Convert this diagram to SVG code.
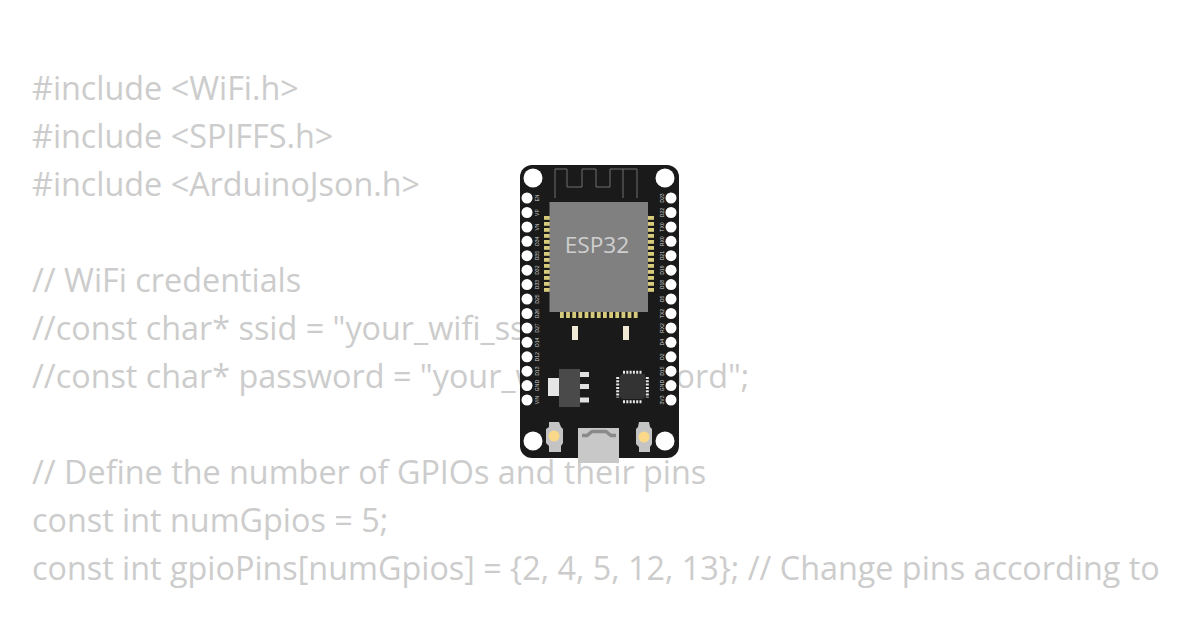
<svg xmlns="http://www.w3.org/2000/svg" width="1200" height="630" viewBox="0 0 1200 630">
<style>
.code{font-family:"Open Sans","Noto Sans",sans-serif;font-size:32.35px;fill:#ccc}
.pin{fill:#fff}
.lbl{font-family:"Liberation Sans",sans-serif;font-size:6.2px;fill:#ccc;text-anchor:middle}
.pad{fill:#d6cb7c}
.btn{fill:#c4c4c4}
.glow{fill:#fbd98a}
</style>
<rect width="1200" height="630" fill="#fff"/>
<g id="code">
<text class="code" x="32" y="100">#include &lt;WiFi.h&gt;</text>
<text class="code" x="32" y="148">#include &lt;SPIFFS.h&gt;</text>
<text class="code" x="32" y="196">#include &lt;ArduinoJson.h&gt;</text>
<text class="code" x="32" y="292">// WiFi credentials</text>
<text class="code" x="32" y="340">//const char* ssid = "your_wifi_ssid";</text>
<text class="code" x="32" y="388">//const char* password = "your_wifi_password";</text>
<text class="code" x="32" y="484">// Define the number of GPIOs and their pins</text>
<text class="code" x="32" y="532">const int numGpios = 5;</text>
<text class="code" x="32" y="580">const int gpioPins[numGpios] = {2, 4, 5, 12, 13}; // Change pins according to</text>
</g>
<g id="board">
<rect x="520" y="165" width="159" height="293" rx="12" fill="#1a1a1a"/>
<circle class="pin" cx="533" cy="178" r="9.5"/><circle class="pin" cx="665" cy="178" r="9.5"/>
<circle class="pin" cx="533" cy="441" r="9.5"/><circle class="pin" cx="665" cy="441" r="9.5"/>
<path d="M555 198V169H567V187H582V169H596V187H610V169H637V198M623 169V198" fill="none" stroke="#6e6e6e" stroke-width="1"/>
</g>
<g id="pins-left">
<circle class="pin" cx="527" cy="198" r="5.5"/><circle class="pin" cx="527" cy="212.5" r="5.5"/><circle class="pin" cx="527" cy="227" r="5.5"/><circle class="pin" cx="527" cy="241.3" r="5.5"/><circle class="pin" cx="527" cy="255.7" r="5.5"/><circle class="pin" cx="527" cy="270.2" r="5.5"/><circle class="pin" cx="527" cy="284.6" r="5.5"/><circle class="pin" cx="527" cy="299" r="5.5"/><circle class="pin" cx="527" cy="313.5" r="5.5"/><circle class="pin" cx="527" cy="328" r="5.5"/><circle class="pin" cx="527" cy="342.3" r="5.5"/><circle class="pin" cx="527" cy="356.8" r="5.5"/><circle class="pin" cx="527" cy="371.2" r="5.5"/><circle class="pin" cx="527" cy="385.6" r="5.5"/><circle class="pin" cx="527" cy="400" r="5.5"/>
<g class="lbl">
<text transform="translate(539.300,198) rotate(-90) scale(.82,1)">EN</text><text transform="translate(539.300,212.5) rotate(-90) scale(.82,1)">VP</text><text transform="translate(539.300,227) rotate(-90) scale(.82,1)">VN</text><text transform="translate(539.300,241.3) rotate(-90) scale(.82,1)">D34</text><text transform="translate(539.300,255.7) rotate(-90) scale(.82,1)">D35</text><text transform="translate(539.300,270.2) rotate(-90) scale(.82,1)">D32</text><text transform="translate(539.300,284.6) rotate(-90) scale(.82,1)">D33</text><text transform="translate(539.300,299) rotate(-90) scale(.82,1)">D25</text><text transform="translate(539.300,313.5) rotate(-90) scale(.82,1)">D26</text><text transform="translate(539.300,328) rotate(-90) scale(.82,1)">D27</text><text transform="translate(539.300,342.3) rotate(-90) scale(.82,1)">D14</text><text transform="translate(539.300,356.8) rotate(-90) scale(.82,1)">D12</text><text transform="translate(539.300,371.2) rotate(-90) scale(.82,1)">D13</text><text transform="translate(539.300,385.6) rotate(-90) scale(.82,1)">GND</text><text transform="translate(539.300,400) rotate(-90) scale(.82,1)">VIN</text>
</g>
</g>
<g id="pins-right">
<circle class="pin" cx="671" cy="198" r="5.5"/><circle class="pin" cx="671" cy="212.5" r="5.5"/><circle class="pin" cx="671" cy="227" r="5.5"/><circle class="pin" cx="671" cy="241.3" r="5.5"/><circle class="pin" cx="671" cy="255.7" r="5.5"/><circle class="pin" cx="671" cy="270.2" r="5.5"/><circle class="pin" cx="671" cy="284.6" r="5.5"/><circle class="pin" cx="671" cy="299" r="5.5"/><circle class="pin" cx="671" cy="313.5" r="5.5"/><circle class="pin" cx="671" cy="328" r="5.5"/><circle class="pin" cx="671" cy="342.3" r="5.5"/><circle class="pin" cx="671" cy="356.8" r="5.5"/><circle class="pin" cx="671" cy="371.2" r="5.5"/><circle class="pin" cx="671" cy="385.6" r="5.5"/><circle class="pin" cx="671" cy="400" r="5.5"/>
<g class="lbl">
<text transform="translate(664,198) rotate(-90) scale(.82,1)">D23</text><text transform="translate(664,212.5) rotate(-90) scale(.82,1)">D22</text><text transform="translate(664,227) rotate(-90) scale(.82,1)">TX0</text><text transform="translate(664,241.3) rotate(-90) scale(.82,1)">RX0</text><text transform="translate(664,255.7) rotate(-90) scale(.82,1)">D21</text><text transform="translate(664,270.2) rotate(-90) scale(.82,1)">D19</text><text transform="translate(664,284.6) rotate(-90) scale(.82,1)">D18</text><text transform="translate(664,299) rotate(-90) scale(.82,1)">D5</text><text transform="translate(664,313.5) rotate(-90) scale(.82,1)">TX2</text><text transform="translate(664,328) rotate(-90) scale(.82,1)">RX2</text><text transform="translate(664,342.3) rotate(-90) scale(.82,1)">D4</text><text transform="translate(664,356.8) rotate(-90) scale(.82,1)">D2</text><text transform="translate(664,371.2) rotate(-90) scale(.82,1)">D15</text><text transform="translate(664,385.6) rotate(-90) scale(.82,1)">GND</text><text transform="translate(664,400) rotate(-90) scale(.82,1)">3V3</text>
</g>
</g>
<g id="esp32">
<rect x="544" y="216" width="6" height="3.800" class="pad"/><rect x="544" y="222" width="6" height="3.800" class="pad"/><rect x="544" y="228" width="6" height="3.800" class="pad"/><rect x="544" y="234" width="6" height="3.800" class="pad"/><rect x="544" y="240" width="6" height="3.800" class="pad"/><rect x="544" y="246" width="6" height="3.800" class="pad"/><rect x="544" y="252" width="6" height="3.800" class="pad"/><rect x="544" y="258" width="6" height="3.800" class="pad"/><rect x="544" y="264" width="6" height="3.800" class="pad"/><rect x="544" y="270" width="6" height="3.800" class="pad"/><rect x="544" y="276" width="6" height="3.800" class="pad"/><rect x="544" y="282" width="6" height="3.800" class="pad"/><rect x="544" y="288" width="6" height="3.800" class="pad"/>
<rect x="648" y="216" width="6" height="3.800" class="pad"/><rect x="648" y="222" width="6" height="3.800" class="pad"/><rect x="648" y="228" width="6" height="3.800" class="pad"/><rect x="648" y="234" width="6" height="3.800" class="pad"/><rect x="648" y="240" width="6" height="3.800" class="pad"/><rect x="648" y="246" width="6" height="3.800" class="pad"/><rect x="648" y="252" width="6" height="3.800" class="pad"/><rect x="648" y="258" width="6" height="3.800" class="pad"/><rect x="648" y="264" width="6" height="3.800" class="pad"/><rect x="648" y="270" width="6" height="3.800" class="pad"/><rect x="648" y="276" width="6" height="3.800" class="pad"/><rect x="648" y="282" width="6" height="3.800" class="pad"/><rect x="648" y="288" width="6" height="3.800" class="pad"/>
<rect x="560" y="312" width="3.800" height="6" class="pad"/><rect x="566.100" y="312" width="3.800" height="6" class="pad"/><rect x="572.300" y="312" width="3.800" height="6" class="pad"/><rect x="578.400" y="312" width="3.800" height="6" class="pad"/><rect x="584.600" y="312" width="3.800" height="6" class="pad"/><rect x="590.700" y="312" width="3.800" height="6" class="pad"/><rect x="596.900" y="312" width="3.800" height="6" class="pad"/><rect x="603" y="312" width="3.800" height="6" class="pad"/><rect x="609.200" y="312" width="3.800" height="6" class="pad"/><rect x="615.300" y="312" width="3.800" height="6" class="pad"/><rect x="621.500" y="312" width="3.800" height="6" class="pad"/><rect x="627.600" y="312" width="3.800" height="6" class="pad"/><rect x="633.800" y="312" width="3.800" height="6" class="pad"/>
<rect x="549.500" y="202" width="98.500" height="110" fill="#808080"/>
<text x="597" y="253" font-family="'Open Sans',sans-serif" font-size="22.700" fill="#cfcfcf" text-anchor="middle">ESP32</text>
</g>
<g id="components">
<rect x="572" y="326" width="6" height="14" fill="#efe9d6"/><rect x="623" y="326" width="6" height="14" fill="#efe9d6"/>
<rect x="548" y="378" width="11" height="18" fill="#e6e6e6"/>
<rect x="580" y="372" width="9" height="5" fill="#e0e0e0"/><rect x="580" y="384" width="9" height="5" fill="#e0e0e0"/><rect x="580" y="397.500" width="9" height="5" fill="#e0e0e0"/>
<rect x="559" y="369" width="21" height="38" fill="#4a4a4a"/>
<path d="M622 374H645V397L643 399H622L620 397V376Z" fill="#333"/>
<path d="M623 372.300H642.500M623 401.700H642.500M617.700 377V397.500M647.300 377V397.500" stroke="#e8e8e8" stroke-width="3" stroke-dasharray="2 1.300" fill="none"/>
<rect x="578" y="428" width="41" height="35" fill="#c8c8c8"/>
<path d="M582 435.500H587L592 431.500H606L611 435.500H616" fill="none" stroke="#8a8a8a" stroke-width="3.500"/>
<path d="M549 422H559L561 427L563 429V443L561 446V452H549V446L546 443V429L549 427Z" class="btn"/><circle cx="554" cy="436" r="5.500" class="glow"/>
<path d="M639 422H649L650 427L652 429V444L650 447V452H639V447L636 444V429L638 427Z" class="btn"/><circle cx="644" cy="437" r="5.500" class="glow"/>
</g>
</svg>
